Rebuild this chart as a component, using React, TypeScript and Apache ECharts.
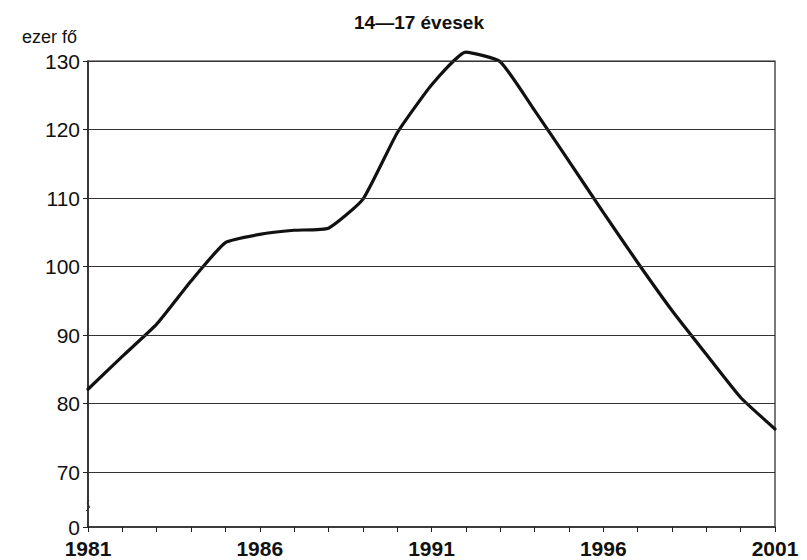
import React, { useEffect, useRef } from "react";
import * as echarts from "echarts";

const years = [1981, 1982, 1983, 1984, 1985, 1986, 1987, 1988, 1989, 1990, 1991, 1992, 1993, 1994, 1995, 1996, 1997, 1998, 1999, 2000, 2001];
const values = [82.1, 86.9, 91.6, 97.9, 103.5, 104.7, 105.3, 105.6, 109.8, 119.5, 126.5, 131.3, 129.9, 122.8, 115.4, 107.9, 100.6, 93.6, 87.2, 80.9, 76.3];
const yTickValues = [62, 70, 80, 90, 100, 110, 120, 130];
const gridValues = [70, 80, 90, 100, 110, 120, 130];
const xLabelYears = [1981, 1986, 1991, 1996, 2001];
const titleText = "14\u201417 évesek";
const unitText = "ezer fő";

const FONT = "'Liberation Sans', Arial, Helvetica, sans-serif";

export default function App() {
  const ref = useRef<HTMLDivElement>(null);
  useEffect(() => {
    if (!ref.current) return;
    const chart = echarts.init(ref.current, null, { renderer: "svg" });
    chart.setOption({
      animation: false,
      backgroundColor: "#ffffff",
      textStyle: { fontFamily: FONT },
      title: [
        {
          text: titleText,
          left: 349,
          top: 8,
          textStyle: { fontSize: 19, fontWeight: "bold", color: "#111", fontFamily: FONT },
        },
        {
          text: unitText,
          left: 17,
          top: 23,
          textStyle: { fontSize: 18, fontWeight: "normal", color: "#111", fontFamily: FONT },
        },
      ],
      grid: {
        left: 88,
        right: 32,
        top: 61,
        bottom: 33,
        show: true,
        borderColor: "#222",
        borderWidth: 1.2,
        backgroundColor: "transparent",
      },
      xAxis: {
        type: "value",
        min: 1981,
        max: 2001,
        interval: 1,
        axisLine: { show: true, lineStyle: { color: "#222", width: 1.5 } },
        axisTick: { show: true, length: 5, lineStyle: { color: "#222", width: 1 } },
        splitLine: { show: false },
        axisLabel: {
          show: true,
          margin: 11,
          fontSize: 21,
          fontWeight: "bold",
          color: "#111",
          fontFamily: FONT,
          showMaxLabel: true,
          showMinLabel: true,
          formatter: (v: number) => (xLabelYears.indexOf(v) >= 0 ? String(v) : ""),
        },
      },
      yAxis: {
        type: "value",
        min: 62,
        max: 130,
        axisLine: { show: true, lineStyle: { color: "#222", width: 1.5 } },
        axisTick: { show: true, length: 5, customValues: yTickValues, lineStyle: { color: "#222" } },
        splitLine: { show: false },
        axisLabel: {
          show: true,
          margin: 8,
          fontSize: 21,
          color: "#111",
          fontFamily: FONT,
          customValues: yTickValues,
          formatter: (v: number) => (v === 62 ? "0" : String(v)),
        },
      },
      graphic: [
        {
          type: "polyline",
          shape: { points: [[86, 511], [90, 507], [87, 503], [89, 500]] },
          style: { stroke: "#444", lineWidth: 1, fill: "none" },
          silent: true,
        },
      ],
      series: [
        {
          type: "line",
          data: years.map((y, i) => [y, values[i]]),
          showSymbol: false,
          symbol: "none",
          smooth: 0.15,
          clip: false,
          lineStyle: { color: "#111", width: 3.2, join: "round", cap: "round" },
          markLine: {
            silent: true,
            symbol: "none",
            label: { show: false },
            lineStyle: { color: "#333", width: 1.2, type: "solid" },
            data: gridValues.map((v) => ({ yAxis: v })),
          },
          z: 3,
        },
      ],
    });
    return () => chart.dispose();
  }, []);
  return <div ref={ref} style={{ position: "fixed", left: 0, top: 0, width: 807, height: 560 }} />;
}
